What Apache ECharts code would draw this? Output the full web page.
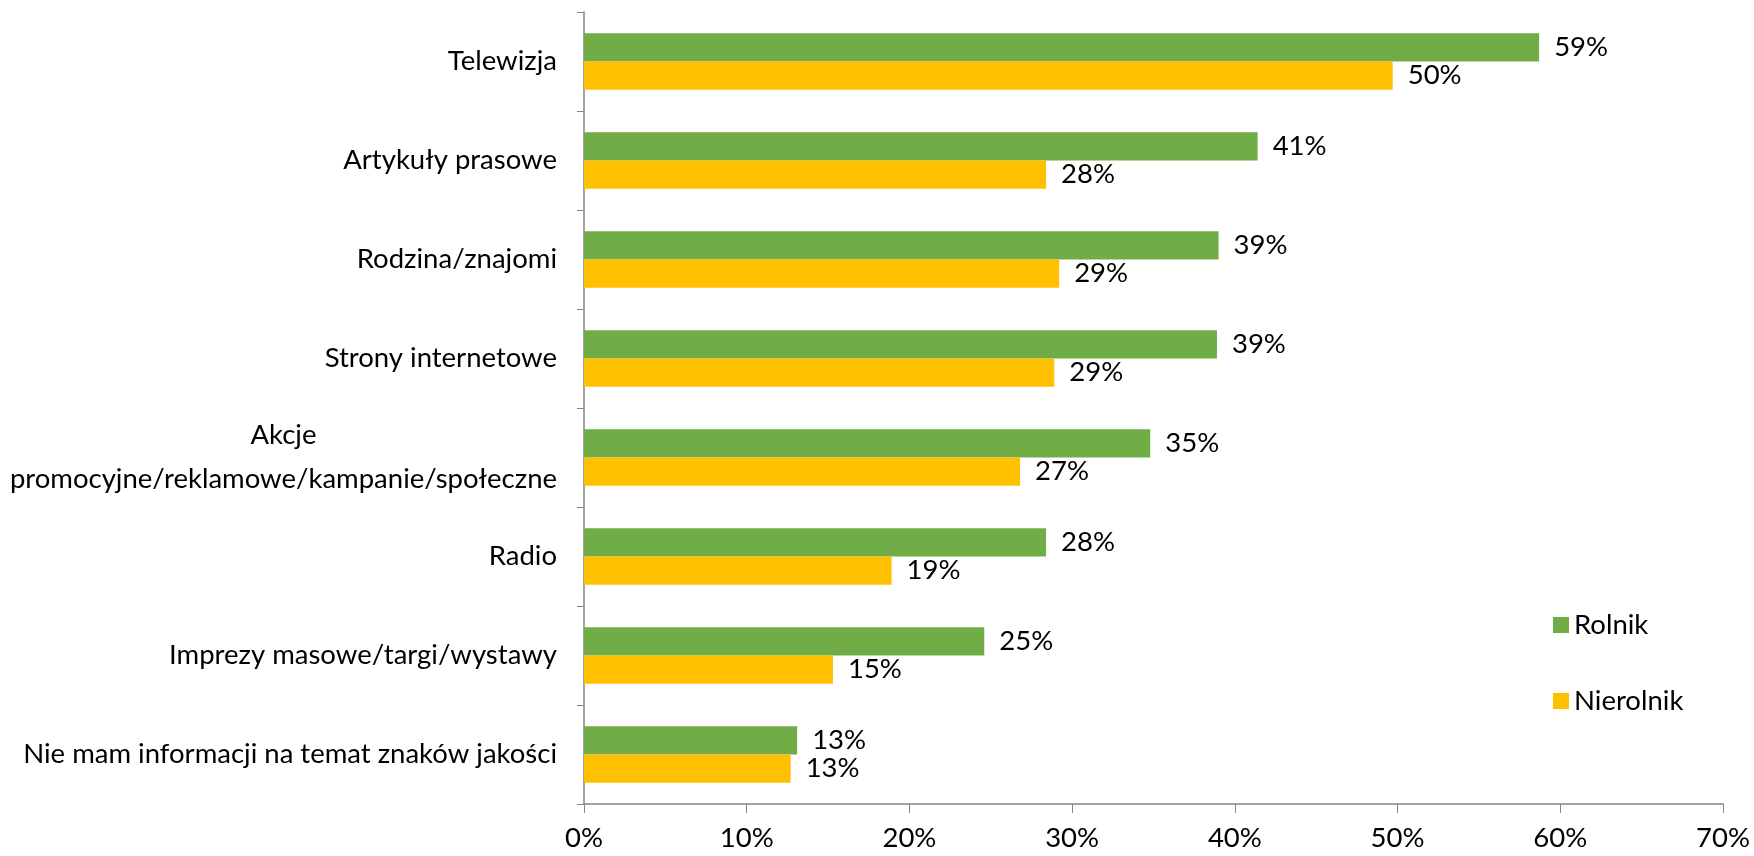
<!DOCTYPE html>
<html>
<head>
<meta charset="utf-8">
<script src="https://cdn.jsdelivr.net/npm/echarts@6/dist/echarts.min.js"></script>
<style>
  html, body { margin: 0; padding: 0; background: #fff; }
  #chart { width: 1754px; height: 856px; }
</style>
</head>
<body>
<div id="chart"></div>
<script>
// Source of information about quality marks, by respondent group (%)
const categories = [
  'Telewizja',
  'Artykuły prasowe',
  'Rodzina/znajomi',
  'Strony internetowe',
  'Akcje\npromocyjne/reklamowe/kampanie/społeczne',
  'Radio',
  'Imprezy masowe/targi/wystawy',
  'Nie mam informacji na temat znaków jakości'
];
const rolnik    = [58.7, 41.4, 39.0, 38.9, 34.8, 28.4, 24.6, 13.1];
const nierolnik = [49.7, 28.4, 29.2, 28.9, 26.8, 18.9, 15.3, 12.7];
const seriesNames = ['Rolnik', 'Nierolnik'];
const xTicks = [0, 10, 20, 30, 40, 50, 60, 70];

const FONT = 'Lato';
const FS = 27.5;
const axisGray = '#868686';

const chart = echarts.init(document.getElementById('chart'), null, { renderer: 'canvas' });

const labelStyle = {
  show: true,
  position: 'right',
  distance: 15,
  color: '#000',
  fontFamily: FONT,
  fontSize: FS,
  formatter: p => Math.round(p.value) + '%'
};

chart.setOption({
  animation: false,
  backgroundColor: '#fff',
  grid: { left: 584, right: 31, top: 12, bottom: 52, containLabel: false },
  legend: {
    orient: 'vertical',
    left: 1548,
    top: 606,
    itemWidth: 16,
    itemHeight: 16,
    itemGap: 48,
    icon: 'rect',
    textStyle: { fontFamily: FONT, fontSize: FS, color: '#000', padding: [0, 0, 0, 0] },
    data: seriesNames
  },
  xAxis: {
    type: 'value',
    min: xTicks[0],
    max: xTicks[xTicks.length - 1],
    interval: 10,
    splitLine: { show: false },
    axisLine: { show: true, lineStyle: { color: axisGray, width: 1.5 } },
    axisTick: { show: true, length: 9, lineStyle: { color: axisGray } },
    axisLabel: {
      margin: 20,
      color: '#000',
      fontFamily: FONT,
      fontSize: FS,
      formatter: v => v + '%'
    }
  },
  yAxis: {
    type: 'category',
    inverse: true,
    data: categories,
    axisLine: { show: true, lineStyle: { color: axisGray, width: 1.5 } },
    axisTick: { show: true, length: 7, lineStyle: { color: axisGray } },
    axisLabel: {
      margin: 27,
      color: '#000',
      fontFamily: FONT,
      fontSize: FS,
      lineHeight: 44,
      formatter: v => v.indexOf('\n') >= 0
        ? v.split('\n').map(s => '{c|' + s + '}').join('\n')
        : v,
      rich: {
        c: { align: 'center', fontFamily: FONT, fontSize: FS, color: '#000', lineHeight: 44 }
      }
    }
  },
  series: [
    {
      name: seriesNames[0],
      type: 'bar',
      data: rolnik,
      barGap: '0%',
      barCategoryGap: '43%',
      itemStyle: { color: '#70AD47' },
      label: labelStyle
    },
    {
      name: seriesNames[1],
      type: 'bar',
      data: nierolnik,
      barGap: '0%',
      barCategoryGap: '43%',
      itemStyle: { color: '#FFC000' },
      label: labelStyle
    }
  ]
});
</script>
</body>
</html>
